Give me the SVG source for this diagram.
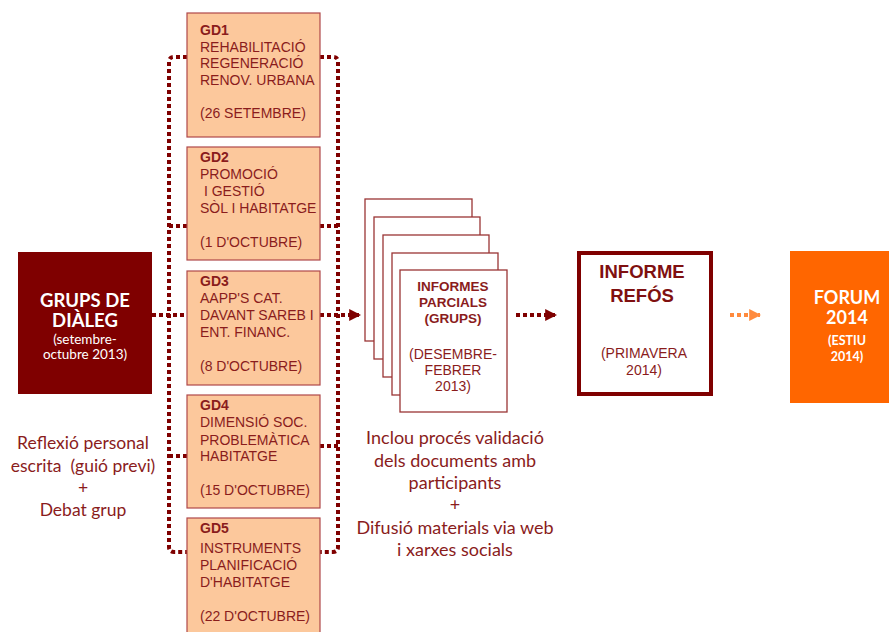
<svg xmlns="http://www.w3.org/2000/svg" width="889" height="632" viewBox="0 0 889 632">
<style>
.gd{fill:#fcc89c;stroke:#b0484a;stroke-width:1.2}
.gt{font-family:"Liberation Sans",Arial,sans-serif;font-size:14px;fill:#8a1c1c}
.gb{font-weight:bold}
.dot{fill:none;stroke:#7f0000;stroke-width:4;stroke-dasharray:4 3}
.doc{fill:#fff;stroke:#9a3535;stroke-width:1.3}
.cal{font-family:Lato,"Open Sans",sans-serif}
.note{font-family:Lato,"Open Sans",sans-serif;font-size:17.5px;fill:#8a1c1c;text-anchor:middle;white-space:pre}
</style>
<defs>
<marker id="ah" viewBox="0 0 10 10" refX="9" refY="5" markerWidth="3" markerHeight="3" orient="auto"><path d="M0,0 L10,5 L0,10 z" fill="#7f0000"/></marker>
<marker id="aho" viewBox="0 0 10 10" refX="9" refY="5" markerWidth="3" markerHeight="3" orient="auto"><path d="M0,0 L10,5 L0,10 z" fill="#ff8a3d"/></marker>
</defs>
<g id="connectors">
<path class="dot" d="M187,57 H174 Q169,57 169,62 V547 Q169,552 174,552 H187"/>
<path class="dot" d="M169,226 H187 M169,456 H187"/>
<path class="dot" d="M320,57 H333 Q338,57 338,62 V547 Q338,552 333,552 H320"/>
<path class="dot" d="M320,226 H338 M320,446 H338"/>
<path class="dot" d="M152,315 H187"/>
<path class="dot" d="M320,315 H360" marker-end="url(#ah)"/>
<path class="dot" d="M516,315 H556" marker-end="url(#ah)"/>
<path class="dot" d="M730,315 H760" style="stroke:#ff8a3d" marker-end="url(#aho)"/>
</g>
<g id="grups">
<rect x="18" y="252" width="134" height="142" fill="#7f0000"/>
<text class="cal" x="85" y="307" text-anchor="middle" style="font-size:18.5px;font-weight:bold" fill="#fff">GRUPS DE</text>
<text class="cal" x="85" y="327" text-anchor="middle" style="font-size:18.5px;font-weight:bold" fill="#fff">DIÀLEG</text>
<text class="cal" x="85" y="344" text-anchor="middle" style="font-size:13.5px" fill="#fff">(setembre-</text>
<text class="cal" x="85" y="359" text-anchor="middle" style="font-size:13.5px" fill="#fff">octubre 2013)</text>
</g>
<g id="gd1">
<rect class="gd" x="187" y="13" width="133" height="124"/>
<text class="gt"><tspan class="gb" x="200" y="35">GD1</tspan><tspan x="200" y="52">REHABILITACIÓ</tspan><tspan x="200" y="68">REGENERACIÓ</tspan><tspan x="200" y="85">RENOV. URBANA</tspan><tspan x="200" y="118">(26 SETEMBRE)</tspan></text>
</g>
<g id="gd2">
<rect class="gd" x="187" y="147" width="133" height="113"/>
<text class="gt"><tspan class="gb" x="200" y="162">GD2</tspan><tspan x="200" y="179">PROMOCIÓ</tspan><tspan x="200" y="196"> I GESTIÓ</tspan><tspan x="200" y="213">SÒL I HABITATGE</tspan><tspan x="200" y="247">(1 D'OCTUBRE)</tspan></text>
</g>
<g id="gd3">
<rect class="gd" x="187" y="271" width="133" height="114"/>
<text class="gt"><tspan class="gb" x="200" y="286">GD3</tspan><tspan x="200" y="303">AAPP'S CAT.</tspan><tspan x="200" y="320">DAVANT SAREB I</tspan><tspan x="200" y="337">ENT. FINANC.</tspan><tspan x="200" y="371">(8 D'OCTUBRE)</tspan></text>
</g>
<g id="gd4">
<rect class="gd" x="187" y="395" width="133" height="113"/>
<text class="gt"><tspan class="gb" x="200" y="410">GD4</tspan><tspan x="200" y="427">DIMENSIÓ SOC.</tspan><tspan x="200" y="445">PROBLEMÀTICA</tspan><tspan x="200" y="461">HABITATGE</tspan><tspan x="200" y="495">(15 D'OCTUBRE)</tspan></text>
</g>
<g id="gd5">
<rect class="gd" x="187" y="518" width="133" height="120"/>
<text class="gt"><tspan class="gb" x="200" y="533">GD5</tspan><tspan x="200" y="553">INSTRUMENTS</tspan><tspan x="200" y="570">PLANIFICACIÓ</tspan><tspan x="200" y="587">D'HABITATGE</tspan><tspan x="200" y="621">(22 D'OCTUBRE)</tspan></text>
</g>
<g id="informes">
<rect class="doc" x="365" y="199" width="107" height="142"/>
<rect class="doc" x="374" y="217" width="106" height="142"/>
<rect class="doc" x="383" y="235" width="106" height="142"/>
<rect class="doc" x="392" y="253" width="106" height="142"/>
<rect class="doc" x="400" y="270" width="107" height="142"/>
<text class="gt" text-anchor="middle"><tspan class="gb" x="453" y="291" style="font-size:13.5px">INFORMES</tspan><tspan class="gb" x="453" y="307" style="font-size:13.5px">PARCIALS</tspan><tspan class="gb" x="453" y="323" style="font-size:13.5px">(GRUPS)</tspan><tspan x="453" y="359">(DESEMBRE-</tspan><tspan x="453" y="375">FEBRER</tspan><tspan x="453" y="391">2013)</tspan></text>
</g>
<g id="refos">
<rect x="579" y="253" width="132" height="141" fill="#fff" stroke="#7f0000" stroke-width="4"/>
<text class="gt" text-anchor="middle" style="font-size:18.5px;font-weight:bold;fill:#7f1010"><tspan x="642" y="278">INFORME</tspan><tspan x="642" y="302">REFÓS</tspan></text>
<text class="gt" text-anchor="middle"><tspan x="644" y="358">(PRIMAVERA</tspan><tspan x="644" y="375">2014)</tspan></text>
</g>
<g id="forum">
<rect x="790" y="251" width="99" height="152" fill="#ff6600"/>
<text class="cal" text-anchor="middle" font-weight="bold" fill="#fff"><tspan x="847" y="304" style="font-size:18px">FORUM</tspan><tspan x="847" y="324" style="font-size:18px">2014</tspan><tspan x="847" y="345" style="font-size:12.5px">(ESTIU</tspan><tspan x="847" y="361" style="font-size:12.5px">2014)</tspan></text>
</g>
<g id="note-left">
<text class="note"><tspan x="83" y="449">Reflexió personal</tspan><tspan x="83" y="472">escrita  (guió previ)</tspan><tspan x="83" y="494">+</tspan><tspan x="83" y="516">Debat grup</tspan></text>
</g>
<g id="note-mid">
<text class="note" style="font-size:18px"><tspan x="455" y="444">Inclou procés validació</tspan><tspan x="455" y="467">dels documents amb</tspan><tspan x="455" y="489">participants</tspan><tspan x="455" y="511">+</tspan><tspan x="455" y="534">Difusió materials via web</tspan><tspan x="455" y="556">i xarxes socials</tspan></text>
</g>
</svg>
